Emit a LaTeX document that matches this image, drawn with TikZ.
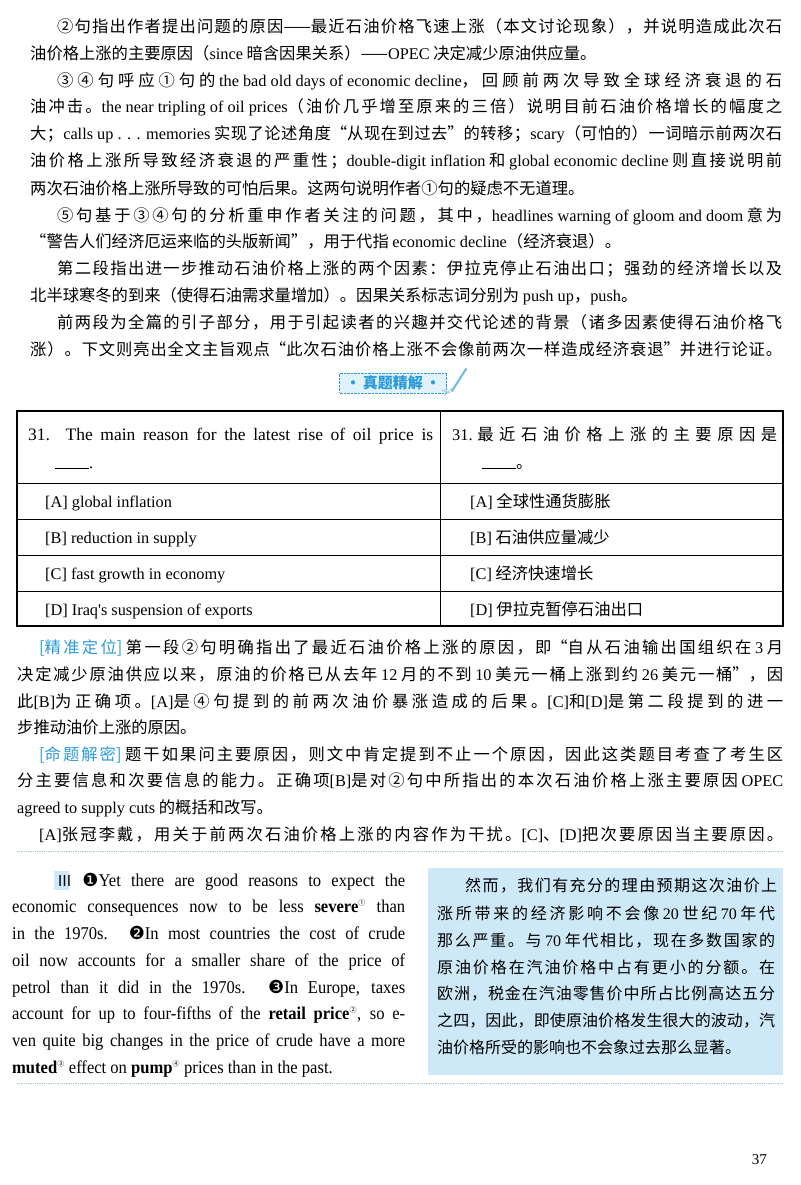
\documentclass[tikz,border=0pt]{standalone}
\usepackage{fontspec}
\setmainfont{Noto Sans CJK SC}
\newfontfamily\en{Liberation Serif}
\newfontfamily\enc[FakeStretch=0.92]{Liberation Serif}
\newfontfamily\djv{DejaVu Sans}
\XeTeXinterchartokenstate=1
\newXeTeXintercharclass\cjkc
\count255="2460
\loop\ifnum\count255<"24FF \XeTeXcharclass\count255=\cjkc \advance\count255 by 1 \repeat
\count255="3000
\loop\ifnum\count255<"9FFF \XeTeXcharclass\count255=\cjkc \advance\count255 by 1 \repeat
\count255="FF00
\loop\ifnum\count255<"FFEF \XeTeXcharclass\count255=\cjkc \advance\count255 by 1 \repeat
\XeTeXinterchartoks\cjkc\cjkc={\hskip0pt plus 1fil\relax}
\definecolor{tblue}{HTML}{2B9BD8}
\definecolor{boxblue}{HTML}{CDE9F8}
\definecolor{dotc}{HTML}{8FCBEA}
\newcommand{\jl}[2]{\makebox[#1][s]{#2}}
\newcommand{\E}[1]{{\en #1}}
\newcommand{\C}[1]{{\enc #1}}
\newcommand{\cn}[1]{\textsuperscript{\normalfont\scriptsize #1}}
\begin{document}
\begin{tikzpicture}[x=1pt,y=-1pt,
  ln/.style={anchor=base west,inner sep=0pt,font=\fontsize{16.3}{18}\selectfont},
  lb/.style={anchor=base west,inner sep=0pt,font=\fontsize{18}{18}\selectfont},
  lz/.style={anchor=base west,inner sep=0pt,font=\fontsize{16}{18}\selectfont},
  cell/.style={anchor=base west,inner sep=0pt,font=\fontsize{16.3}{18}\selectfont},
  dotl/.style={dotc,densely dotted,line width=0.8pt}]
\useasboundingbox (0,0) rectangle (800,1185);
\fill[white] (0,0) rectangle (800,1185);
% top paragraphs
\node[ln] (l1) at (57,33) {\jl{725pt}{②句指出作者提出问题的原因——最近石油价格飞速上涨（本文讨论现象），并说明造成此次石}};
\node[ln] (l2) at (30,60) {油价格上涨的主要原因（\E{since} 暗含因果关系）——\E{OPEC} 决定减少原油供应量。};
\node[ln] (l3) at (57,87) {\jl{725pt}{③④句呼应①句的 \E{the bad old days of economic decline}，回顾前两次导致全球经济衰退的石}};
\node[ln] (l4) at (30,113) {\jl{752pt}{油冲击。\E{the near tripling of oil prices}（油价几乎增至原来的三倍）说明目前石油价格增长的幅度之}};
\node[ln] (l5) at (30,140) {\jl{752pt}{大；\E{calls up . . . memories} 实现了论述角度“从现在到过去”的转移；\E{scary}（可怕的）一词暗示前两次石}};
\node[ln] (l6) at (30,167) {\jl{752pt}{油价格上涨所导致经济衰退的严重性；\E{double-digit inflation} 和 \E{global economic decline} 则直接说明前}};
\node[ln] (l7) at (30,194) {两次石油价格上涨所导致的可怕后果。这两句说明作者①句的疑虑不无道理。};
\node[ln] (l8) at (57,221) {\jl{725pt}{⑤句基于③④句的分析重申作者关注的问题，其中，\E{headlines warning of gloom and doom} 意为}};
\node[ln] (l9) at (30,247) {“警告人们经济厄运来临的头版新闻”，用于代指 \E{economic decline}（经济衰退）。};
\node[ln] (l10) at (57,274) {\jl{725pt}{第二段指出进一步推动石油价格上涨的两个因素：伊拉克停止石油出口；强劲的经济增长以及}};
\node[ln] (l11) at (30,301) {北半球寒冬的到来（使得石油需求量增加）。因果关系标志词分别为 \E{push up}，\E{push}。};
\node[ln] (l12) at (57,328) {\jl{725pt}{前两段为全篇的引子部分，用于引起读者的兴趣并交代论述的背景（诸多因素使得石油价格飞}};
\node[ln] (l13) at (30,355) {\jl{752pt}{涨）。下文则亮出全文主旨观点“此次石油价格上涨不会像前两次一样造成经济衰退”并进行论证。}};
% badge
\node[draw=tblue,densely dotted,fill=boxblue!60,inner xsep=6pt,inner ysep=3pt,
  text=tblue,font=\fontsize{15}{18}\selectfont\bfseries] (badge) at (393,383) {·\,真题精解\,·};
\draw[tblue!70,line width=2pt,line cap=round] (452,391) -- (466,369);
\draw[tblue!50,line width=1pt] (444,396) -- (452,388) (442,390) -- (450,393);
% table
\draw[line width=1.2pt] (17,411) rectangle (783,626);
\draw[line width=0.8pt] (440,411) -- (440,626);
\foreach \yy in {483,519,555,591} \draw[line width=0.8pt] (17,\yy) -- (783,\yy);
\node[cell,font=\fontsize{17.5}{18}\selectfont] (h1) at (28,440) {\E{\jl{405pt}{31. The main reason for the latest rise of oil price is}}};
\node[cell] (h2) at (55,468) {\E{\rule[-1pt]{34pt}{0.6pt}.}};
\node[cell] (h3) at (452,440) {\jl{325pt}{\E{31.} 最近石油价格上涨的主要原因是}};
\node[cell] (h4) at (482,468) {\rule[-1pt]{34pt}{0.6pt}。};
\node[cell] (a1) at (45,507) {\E{[A] global inflation}};
\node[cell] (b1) at (45,543) {\E{[B] reduction in supply}};
\node[cell] (c1) at (45,579) {\E{[C] fast growth in economy}};
\node[cell] (d1) at (45,615) {\E{[D] Iraq's suspension of exports}};
\node[cell] (a2) at (470,507) {\E{[A]} 全球性通货膨胀};
\node[cell] (b2) at (470,543) {\E{[B]} 石油供应量减少};
\node[cell] (c2) at (470,579) {\E{[C]} 经济快速增长};
\node[cell] (d2) at (470,615) {\E{[D]} 伊拉克暂停石油出口};
% analysis
\node[ln] (p1) at (39,653) {\jl{744pt}{\textcolor{tblue}{[精准定位]} 第一段②句明确指出了最近石油价格上涨的原因，即“自从石油输出国组织在 \E{3} 月}};
\node[ln] (p2) at (17,680) {\jl{766pt}{决定减少原油供应以来，原油的价格已从去年 \E{12} 月的不到 \E{10} 美元一桶上涨到约 \E{26} 美元一桶”，因}};
\node[ln] (p3) at (17,707) {\jl{766pt}{此\E{[B]}为正确项。\E{[A]}是④句提到的前两次油价暴涨造成的后果。\E{[C]}和\E{[D]}是第二段提到的进一}};
\node[ln] (p4) at (17,733) {步推动油价上涨的原因。};
\node[ln] (p5) at (39,760) {\jl{744pt}{\textcolor{tblue}{[命题解密]} 题干如果问主要原因，则文中肯定提到不止一个原因，因此这类题目考查了考生区}};
\node[ln] (p6) at (17,786) {\jl{766pt}{分主要信息和次要信息的能力。正确项\E{[B]}是对②句中所指出的本次石油价格上涨主要原因 \E{OPEC}}};
\node[ln] (p7) at (17,813) {\E{agreed to supply cuts} 的概括和改写。};
\node[ln] (p8) at (39,840) {\jl{744pt}{\E{[A]}张冠李戴，用关于前两次石油价格上涨的内容作为干扰。\E{[C]}、\E{[D]}把次要原因当主要原因。}};
\draw[dotl] (17,851) -- (783,851);
\draw[dotl] (17,1083) -- (783,1083);
% bottom left English
\fill[boxblue] (54,871) rectangle (69,890);
\node[lb] (e1) at (57,886) {\C{\jl{348pt}{{\normalfont\fontsize{15}{18}\selectfont Ⅲ} {\djv ❶}Yet there are good reasons to expect the}}};
\node[lb] (e2) at (12,912) {\C{\jl{393pt}{economic consequences now to be less \textbf{severe}\cn{①} than}}};
\node[lb] (e3) at (12,939) {\C{\jl{393pt}{in the 1970s. {\djv ❷}In most countries the cost of crude}}};
\node[lb] (e4) at (12,966) {\C{\jl{393pt}{oil now accounts for a smaller share of the price of}}};
\node[lb] (e5) at (12,993) {\C{\jl{393pt}{petrol than it did in the 1970s. {\djv ❸}In Europe, taxes}}};
\node[lb] (e6) at (12,1019) {\C{\jl{393pt}{account for up to four-fifths of the \textbf{retail price}\cn{②}, so e-}}};
\node[lb] (e7) at (12,1046) {\C{\jl{393pt}{ven quite big changes in the price of crude have a more}}};
\node[lb] (e8) at (12,1073) {\C{\textbf{muted}\cn{③} effect on \textbf{pump}\cn{④} prices than in the past.}};
% bottom right box
\fill[boxblue] (428,868) rectangle (783,1075);
\node[lz] (z1) at (465,891) {\jl{312pt}{然而，我们有充分的理由预期这次油价上}};
\node[lz] (z2) at (437,919) {\jl{338pt}{涨所带来的经济影响不会像 \E{20} 世纪 \E{70} 年代}};
\node[lz] (z3) at (437,946) {\jl{338pt}{那么严重。与 \E{70} 年代相比，现在多数国家的}};
\node[lz] (z4) at (437,973) {\jl{338pt}{原油价格在汽油价格中占有更小的分额。在}};
\node[lz] (z5) at (437,999) {\jl{338pt}{欧洲，税金在汽油零售价中所占比例高达五分}};
\node[lz] (z6) at (437,1026) {\jl{338pt}{之四，因此，即使原油价格发生很大的波动，汽}};
\node[lz] (z7) at (437,1053) {油价格所受的影响也不会象过去那么显著。};
\node[anchor=base east,inner sep=0pt,font=\fontsize{15}{18}\selectfont\en] (pg) at (767,1164) {37};
\end{tikzpicture}
\end{document}
